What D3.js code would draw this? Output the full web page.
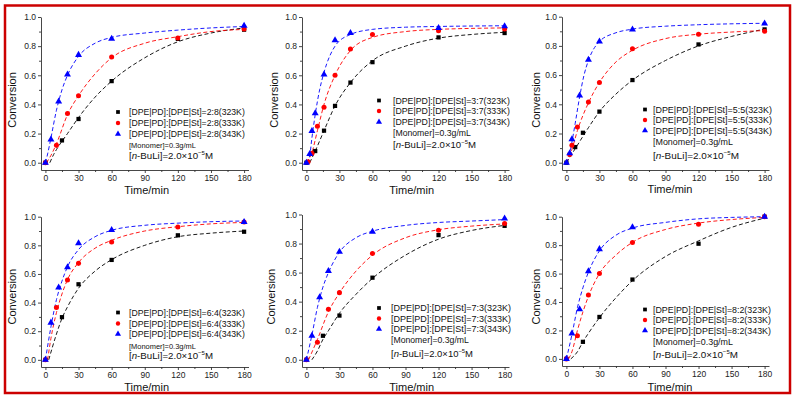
<!DOCTYPE html>
<html><head><meta charset="utf-8">
<script src="https://cdn.jsdelivr.net/npm/d3@7"></script>
<style>
body{margin:0;background:#fff;}
text{font-family:"Liberation Sans",Arial,sans-serif;}
</style></head>
<body><svg id="c" width="796" height="400"></svg>
<script>
// ---------- DATA ----------
const ratios = ["2:8","3:7","5:5","6:4","7:3","8:2"];
const temps = ["323K","333K","343K"];
const xTicks = [0,30,60,90,120,150,180];
const yTicks = [0.0,0.2,0.4,0.6,0.8,1.0];
const xMinorTicks = [15,45,75,105,135,165];
const yMinorTicks = [0.1,0.3,0.5,0.7,0.9];

// measured points [time/min, conversion]
const pts28_323 = [[0,0],[15,0.153],[30,0.30],[60,0.56],[120,0.85],[180,0.913]];
const pts28_333 = [[0,0],[10,0.119],[20,0.338],[30,0.46],[60,0.726],[120,0.856],[180,0.918]];
const pts28_343 = [[0,0],[5,0.16],[12,0.42],[20,0.605],[30,0.74],[60,0.85],[180,0.94]];
const pts37_323 = [[0,0],[8,0.08],[16,0.22],[26,0.39],[40,0.55],[60,0.69],[120,0.86],[180,0.89]];
const pts37_333 = [[1.5,0.007],[5,0.064],[10,0.25],[16,0.38],[26,0.60],[40,0.78],[60,0.88],[120,0.906],[180,0.918]];
const pts37_343 = [[0,0],[3,0.06],[5,0.217],[8,0.34],[16,0.605],[26,0.84],[40,0.89],[120,0.925],[180,0.936]];
const pts55_323 = [[0,0],[8,0.107],[15,0.205],[30,0.35],[60,0.566],[120,0.81],[180,0.913]];
const pts55_333 = [[3,0.057],[5,0.12],[10,0.245],[20,0.415],[30,0.55],[60,0.78],[120,0.88],[180,0.90]];
const pts55_343 = [[0,0],[3,0.064],[5,0.16],[12,0.46],[20,0.705],[30,0.83],[60,0.913],[180,0.954]];
const pts64_323 = [[0,0],[15,0.298],[30,0.528],[60,0.698],[120,0.87],[180,0.895]];
const pts64_333 = [[0,0],[10,0.365],[20,0.558],[30,0.674],[60,0.823],[120,0.928],[180,0.963]];
const pts64_343 = [[0,0],[5,0.26],[12,0.505],[20,0.647],[30,0.814],[60,0.907],[180,0.963]];
const pts73_323 = [[0,0],[15,0.165],[30,0.304],[60,0.565],[120,0.858],[180,0.922]];
const pts73_333 = [[0,0],[10,0.121],[20,0.348],[30,0.462],[60,0.732],[120,0.892],[180,0.938]];
const pts73_343 = [[0,0],[5,0.165],[12,0.43],[20,0.611],[30,0.744],[60,0.881],[180,0.973]];
const pts82_323 = [[0,0],[15,0.12],[30,0.295],[60,0.558],[120,0.81],[180,1.0]];
const pts82_333 = [[0,0],[10,0.163],[20,0.449],[30,0.60],[60,0.819],[120,0.947],[180,1.0]];
const pts82_343 = [[0,0],[5,0.179],[12,0.349],[20,0.616],[30,0.772],[60,0.926],[180,1.0]];

// fitted (dashed) curves
const fit28_323 = [[4,0],[7.5,0.057],[10,0.09],[20,0.2],[30,0.31],[45,0.45],[60,0.56],[90,0.72],[120,0.83],[150,0.89],[180,0.925]];
const fit28_333 = [[1,0],[5,0.05],[10,0.13],[20,0.33],[30,0.46],[45,0.61],[60,0.72],[90,0.82],[120,0.865],[150,0.9],[180,0.915]];
const fit28_343 = [[0,0],[2,0.06],[5,0.17],[10,0.36],[15,0.50],[20,0.60],[30,0.73],[45,0.82],[60,0.86],[90,0.89],[120,0.91],[150,0.925],[180,0.935]];
const fit37_323 = [[3,0],[8,0.08],[16,0.22],[26,0.39],[40,0.55],[60,0.70],[90,0.80],[120,0.855],[150,0.88],[180,0.895]];
const fit37_333 = [[0,0],[5,0.07],[10,0.22],[16,0.40],[26,0.60],[40,0.77],[60,0.86],[90,0.9],[120,0.915],[180,0.925]];
const fit37_343 = [[0,0],[3,0.05],[5,0.17],[8,0.33],[12,0.5],[16,0.62],[26,0.80],[40,0.88],[60,0.915],[90,0.93],[120,0.935],[180,0.94]];
const fit55_323 = [[0,0],[10,0.12],[20,0.24],[30,0.35],[45,0.47],[60,0.565],[90,0.70],[120,0.80],[150,0.865],[180,0.915]];
const fit55_333 = [[0,0],[5,0.09],[10,0.22],[20,0.41],[30,0.55],[45,0.69],[60,0.77],[90,0.85],[120,0.88],[150,0.895],[180,0.905]];
const fit55_343 = [[0,0],[3,0.06],[5,0.14],[8,0.27],[12,0.45],[16,0.6],[20,0.70],[30,0.83],[45,0.89],[60,0.915],[90,0.935],[120,0.945],[180,0.955]];
const fit64_323 = [[3,0],[10,0.18],[15,0.29],[20,0.37],[30,0.50],[45,0.62],[60,0.70],[90,0.80],[120,0.86],[150,0.885],[180,0.9]];
const fit64_333 = [[2,0],[5,0.15],[10,0.33],[15,0.46],[20,0.56],[30,0.68],[45,0.78],[60,0.835],[90,0.9],[120,0.93],[150,0.95],[180,0.96]];
const fit64_343 = [[0,0],[5,0.23],[10,0.42],[15,0.55],[20,0.65],[30,0.77],[45,0.86],[60,0.905],[90,0.94],[120,0.955],[150,0.965],[180,0.97]];
const fit73_323 = [[5,0],[10,0.06],[15,0.14],[20,0.2],[30,0.32],[45,0.45],[60,0.56],[90,0.72],[120,0.83],[150,0.89],[180,0.925]];
const fit73_333 = [[2,0],[10,0.14],[20,0.33],[30,0.46],[45,0.61],[60,0.72],[90,0.84],[120,0.895],[150,0.92],[180,0.935]];
const fit73_343 = [[0,0],[5,0.17],[10,0.36],[15,0.50],[20,0.60],[30,0.74],[45,0.84],[60,0.885],[90,0.925],[120,0.945],[150,0.955],[180,0.965]];
const fit82_323 = [[4,0],[10,0.05],[15,0.12],[20,0.18],[30,0.29],[45,0.43],[60,0.55],[90,0.72],[120,0.83],[150,0.925],[180,0.99]];
const fit82_333 = [[2,0],[5,0.05],[10,0.2],[20,0.44],[30,0.6],[45,0.73],[60,0.82],[90,0.91],[120,0.955],[150,0.98],[180,0.995]];
const fit82_343 = [[0,0],[5,0.17],[10,0.36],[15,0.50],[20,0.61],[30,0.76],[45,0.87],[60,0.92],[90,0.96],[120,0.985],[150,0.995],[180,1.0]];

const points = [[pts28_323,pts28_333,pts28_343],[pts37_323,pts37_333,pts37_343],[pts55_323,pts55_333,pts55_343],
                [pts64_323,pts64_333,pts64_343],[pts73_323,pts73_333,pts73_343],[pts82_323,pts82_333,pts82_343]];
const fits = [[fit28_323,fit28_333,fit28_343],[fit37_323,fit37_333,fit37_343],[fit55_323,fit55_333,fit55_343],
              [fit64_323,fit64_333,fit64_343],[fit73_323,fit73_333,fit73_343],[fit82_323,fit82_333,fit82_343]];

// ---------- LAYOUT ----------
const layout = [
  {L:41, R:248.5, T:17, B:170, xt:146.7, xty:194, yt:12, yty:100, mx:118, tx:129, rows:[112,123,134,145,155.5], w:[116,67,84]},
  {L:302, R:509, T:17, B:170, xt:411.7, xty:194, yt:274, yty:100, mx:379, tx:393, rows:[100.5,111,122,133,144], w:[117,78,83]},
  {L:562, R:769, T:16.7, B:170, xt:670, xty:193, yt:536, yty:100, mx:645, tx:653, rows:[109.5,120,130.5,141.5,155], w:[119,80,86]},
  {L:41, R:248.5, T:216.7, B:367, xt:146.7, xty:390.5, yt:12, yty:296.7, mx:118, tx:129, rows:[312.5,323.5,334,345.5,355.5], w:[116,67,84]},
  {L:302, R:509, T:214.5, B:367, xt:411.7, xty:390.5, yt:271, yty:296.7, mx:379, tx:391, rows:[308,318.5,329,339.5,353], w:[120,78,82]},
  {L:562, R:769, T:216.7, B:366, xt:670, xty:390.5, yt:536, yty:296.7, mx:645, tx:653, rows:[309.5,320,330.5,341.5,354.5], w:[118,80,85]}
];
const colors = ["#000000","#ff0000","#0000ff"];
const symbols = [d3.symbolSquare, d3.symbolCircle, d3.symbolTriangle];
const symSize = [18, 20, 21];
const legSize = [14, 15, 16];

const svg = d3.select("#c");
svg.append("rect").attr("x",0).attr("y",0).attr("width",796).attr("height",400).attr("fill","#fff");

function fitWidth(sel, target){
  const fs = +sel.attr("font-size");
  const w = sel.node().getComputedTextLength();
  if (w > 0) sel.attr("font-size", (fs*target/w).toFixed(2));
}

ratios.forEach((ratio, p) => {
  const lay = layout[p];
  const x = d3.scaleLinear().domain([-4,184]).range([lay.L, lay.R]);
  const y = d3.scaleLinear().domain([-0.05,1.0]).range([lay.B, lay.T]);
  const g = svg.append("g");

  // axes
  g.append("g").attr("transform",`translate(0,${lay.B})`)
    .call(d3.axisBottom(x).tickValues(xTicks).tickSize(3).tickSizeOuter(0).tickPadding(2).tickFormat(d3.format("d")));
  const axm = g.append("g").attr("transform",`translate(0,${lay.B})`)
    .call(d3.axisBottom(x).tickValues(xMinorTicks).tickSize(2).tickFormat(""));
  axm.select(".domain").remove();
  g.append("g").attr("transform",`translate(${lay.L},0)`)
    .call(d3.axisLeft(y).tickValues(yTicks).tickSize(3).tickSizeOuter(0).tickPadding(2).tickFormat(d3.format(".1f")));
  const aym = g.append("g").attr("transform",`translate(${lay.L},0)`)
    .call(d3.axisLeft(y).tickValues(yMinorTicks).tickSize(2).tickFormat(""));
  aym.select(".domain").remove();
  g.selectAll(".domain, .tick line").attr("stroke","#333").attr("stroke-width",0.9);
  g.selectAll(".tick text").attr("font-size",8.5).attr("fill","#222");

  // titles
  g.append("text").attr("x",lay.xt).attr("y",lay.xty).attr("text-anchor","middle")
    .attr("font-size",11).attr("fill","#111").text("Time/min");
  g.append("text").attr("transform",`translate(${lay.yt+4},${lay.yty}) rotate(-90)`).attr("text-anchor","middle")
    .attr("font-size",11).attr("fill","#111").text("Conversion");

  // fitted dashed curves
  const line = d3.line().x(d=>x(d[0])).y(d=>y(d[1])).curve(d3.curveMonotoneX);
  fits[p].forEach((f,i) => {
    g.append("path").attr("d",line(f)).attr("fill","none").attr("stroke",colors[i])
      .attr("stroke-width",0.9).attr("stroke-dasharray","4,2.5");
  });
  // points
  points[p].forEach((s,i) => {
    g.selectAll(null).data(s).enter().append("path")
      .attr("d", d3.symbol().type(symbols[i]).size(symSize[i]))
      .attr("transform", d=>`translate(${x(d[0])},${y(d[1])})`)
      .attr("fill", colors[i]);
  });

  // legend
  temps.forEach((t,i) => {
    const yy = lay.rows[i];
    g.append("path").attr("d", d3.symbol().type(symbols[i]).size(legSize[i]))
      .attr("transform",`translate(${lay.mx},${yy})`).attr("fill",colors[i]);
    const tx = g.append("text").attr("x",lay.tx).attr("y",yy+3.2).attr("font-size",9).attr("fill","#111")
      .text(`[DPE|PD]:[DPE|St]=${ratio}(${t})`);
    fitWidth(tx, lay.w[0]);
  });
  const mon = g.append("text").attr("x",lay.tx).attr("y",lay.rows[3]+3).attr("font-size",8).attr("fill","#111")
    .text("[Monomer]=0.3g/mL");
  fitWidth(mon, lay.w[1]);
  const nb = g.append("text").attr("x",lay.tx).attr("y",lay.rows[4]+3.5).attr("font-size",9.6).attr("fill","#111");
  nb.append("tspan").text("[");
  nb.append("tspan").attr("font-style","italic").text("n");
  nb.append("tspan").text("-BuLi]=2.0×10");
  nb.append("tspan").attr("font-size","0.62em").attr("dy",-4).text("−5");
  nb.append("tspan").attr("dy",4).text("M");
  fitWidth(nb, lay.w[2]);
});

// red frame
svg.append("rect").attr("x",5).attr("y",5.5).attr("width",785).attr("height",387.5)
  .attr("fill","none").attr("stroke","#cc0000").attr("stroke-width",2.5);
</script>
</body></html>
